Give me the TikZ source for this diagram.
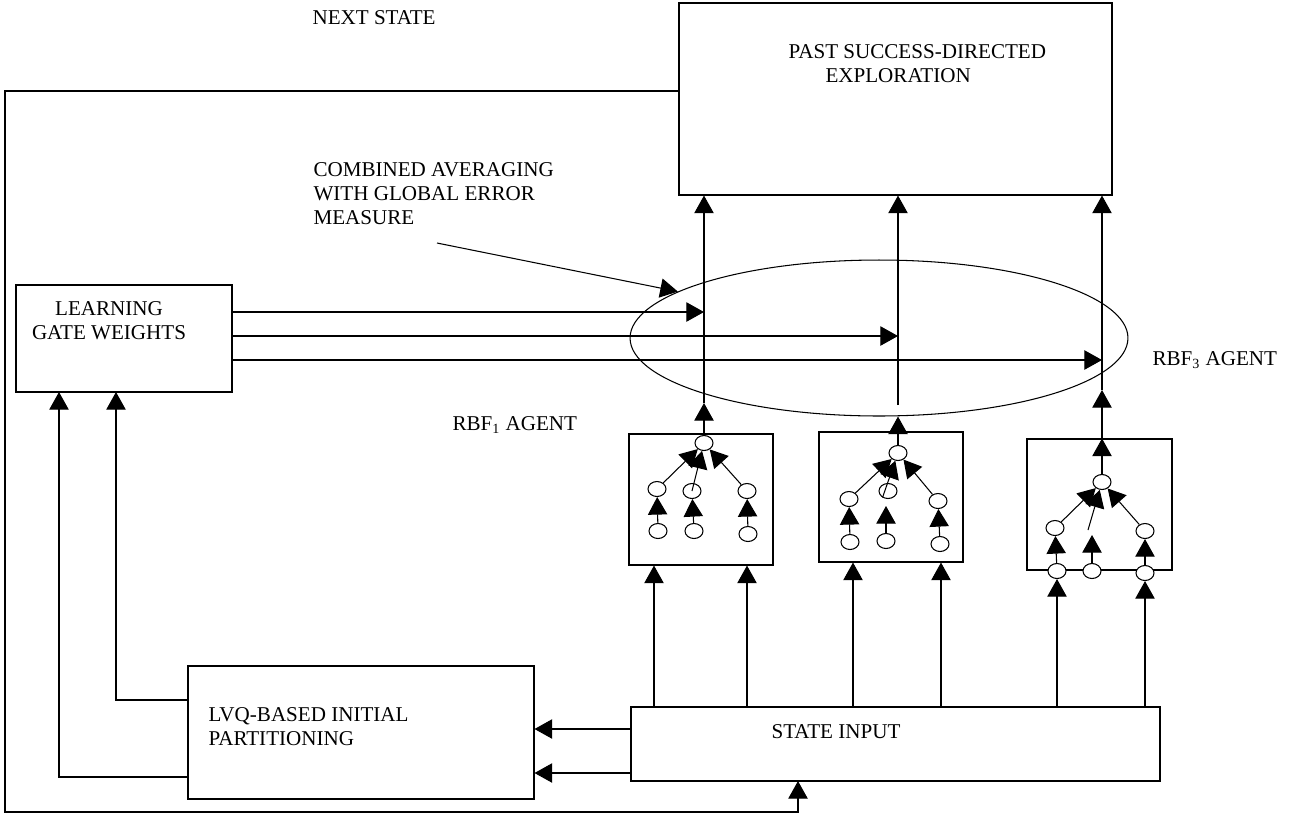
\documentclass[tikz,border=0pt]{standalone}
\usepackage{fontspec}
\setmainfont{Liberation Serif}
\usetikzlibrary{arrows.meta,shapes.geometric,fit}
\tikzset{
  % --- BLOCKS ---
  blk/.style={
    draw,
    rectangle,
    inner sep=0pt
  },
  unit/.style={
    draw,
    fill=white,
    ellipse,
    inner sep=0pt,
    minimum width=0.36cm,
    minimum height=0.3cm
  },
  pool/.style={
    draw,
    ellipse,
    inner sep=0pt,
    minimum width=9.96cm,
    minimum height=3.12cm
  },
  % --- TEXT ---
  lbl/.style={
    font=\fontsize{12}{13.7}\selectfont,
    inner sep=0pt
  },
  % --- ARROWS ---
  arr/.style={
    -{Triangle[length=10pt,width=11pt]}
  },
}

\begin{document}
\begin{tikzpicture}[x=0.02cm, y=-0.02cm, line width=0.6pt]
  \useasboundingbox (0,0) rectangle (1291,816);

  % --- main blocks
  \node[blk, fit={(679,3) (1112,195)}] (explore) {};
  \node[blk, fit={(16,285) (232,392)}] (learn) {};
  \node[blk, fit={(188,666) (534,799)}] (lvq) {};
  \node[blk, fit={(631,707) (1160,781)}] (state) {};
  \node[pool] (avg) at (879,338) {};

  % --- labels
  \node[lbl, anchor=west] (nextlbl) at (312,18) {NEXT STATE};
  \node[lbl, anchor=west, align=left] (explbl) at (788,64)
    {PAST SUCCESS-DIRECTED\\\hspace*{0.74cm}EXPLORATION};
  \node[lbl, anchor=west, align=left] (comblbl) at (313,194)
    {COMBINED AVERAGING\\WITH GLOBAL ERROR\\MEASURE};
  \node[lbl, align=center] (learnlbl) at (109,321) {LEARNING\\GATE WEIGHTS};
  \node[lbl, anchor=west, align=left] (lvqlbl) at (208,727)
    {LVQ-BASED INITIAL\\PARTITIONING};
  \node[lbl, anchor=west] (statelbl) at (771,732) {STATE INPUT};
  \node[lbl, anchor=west] (rbf1lbl) at (452,425) {RBF\textsubscript{1} AGENT};
  \node[lbl, anchor=west] (rbf3lbl) at (1152,360) {RBF\textsubscript{3} AGENT};

  % --- agent boxes
  \node[blk, fit={(629,434) (773,565)}] (ag1) {};
  \node[blk, fit={(819,432) (963,562)}] (ag2) {};
  \node[blk, fit={(1027,439) (1172,570)}] (ag3) {};

  % --- agent 1 units
  \node[unit] (T1) at (704,443) {};
  \node[unit] (H1a) at (657,489) {};
  \node[unit] (H1b) at (692,491) {};
  \node[unit] (H1c) at (747,491) {};
  \node[unit] (B1a) at (658,531) {};
  \node[unit] (B1b) at (694,531) {};
  \node[unit] (B1c) at (748,534) {};
  % --- agent 2 units
  \node[unit] (T2) at (898,453) {};
  \node[unit] (H2a) at (849,499) {};
  \node[unit] (H2b) at (888,491) {};
  \node[unit] (H2c) at (938,501) {};
  \node[unit] (B2a) at (850,542) {};
  \node[unit] (B2b) at (886,541) {};
  \node[unit] (B2c) at (940,544) {};
  % --- agent 3 units
  \node[unit] (T3) at (1102,482) {};
  \node[unit] (H3a) at (1055,528) {};
  \node[unit] (H3c) at (1145,531) {};
  \node[unit] (B3a) at (1057,571) {};
  \node[unit] (B3b) at (1092,571) {};
  \node[unit] (B3c) at (1145,573) {};

  % --- junctions
  \coordinate (g1) at (704,312);
  \coordinate (g2) at (898,336);
  \coordinate (g3) at (1102,360);
  \coordinate (c1) at (704,403);
  \coordinate (c2) at (898,405);
  \coordinate (c3) at (1102,390);
  \coordinate (fb) at (679,91);
  \coordinate (fbin) at (798,781);
  \coordinate (lin1) at (59,392);
  \coordinate (lin2) at (116,392);
  \coordinate (m3) at (1088,530);
  \coordinate (e2) at (886,506);
  \coordinate (e3) at (1092,535);
  \coordinate (cm) at (437,243);

  % --- networks inside the agents
  \foreach \b/\h in {B1a/H1a, B1b/H1b, B1c/H1c, B2a/H2a, B2c/H2c, B3a/H3a, B3c/H3c}
    \draw[arr] (\b) -- (\h);
  \draw[arr] (B2b) -- (e2);
  \draw[arr] (B3b) -- (e3);
  \draw[arr] (H1a) -- (T1);
  \draw[arr] (H1b.center) -- (T1);
  \draw[arr] (H1c) -- (T1);
  \draw[arr] (H2a) -- (T2);
  \draw[arr] (H2b.230) -- (T2);
  \draw[arr] (H2c) -- (T2);
  \draw[arr] (H3a) -- (T3);
  \draw[arr] (m3) -- (T3);
  \draw[arr] (H3c) -- (T3);

  % --- agent outputs
  \draw[arr] (T1) -- (c1);
  \draw[arr] (T2) -- (T2 |- avg.south);
  \draw[arr] (T3) -- (T3 |- ag3.north);
  \draw[arr] (ag3.north -| c3) -- (c3);
  \foreach \c in {c1, c2, c3}
    \draw[arr] (\c) -- (\c |- explore.south);

  % --- gate weights into the averaging
  \foreach \g in {g1, g2, g3}
    \draw[arr] (learn.east |- \g) -- (\g);
  \draw[arr] (cm) -- (avg.167);

  % --- state input
  \foreach \x/\a in {654/ag1, 747/ag1, 853/ag2, 941/ag2}
    \draw[arr] (state.north -| \x,0) -- (\a.south -| \x,0);
  \draw[arr] (state.north -| B3a) -- (B3a);
  \draw[arr] (state.north -| B3c) -- (B3c);
  \draw[arr] (state.west |- 0,729) -- (lvq.east |- 0,729);
  \draw[arr] (state.west |- 0,773) -- (lvq.east |- 0,773);

  % --- partitioning into gate learning
  \draw[arr] (lvq.west |- 0,777) -| (lin1);
  \draw[arr] (lvq.west |- 0,700) -| (lin2);

  % --- next state feedback
  \draw[arr] (fb) -| (5,812) -| (fbin);

\end{tikzpicture}
\end{document}
